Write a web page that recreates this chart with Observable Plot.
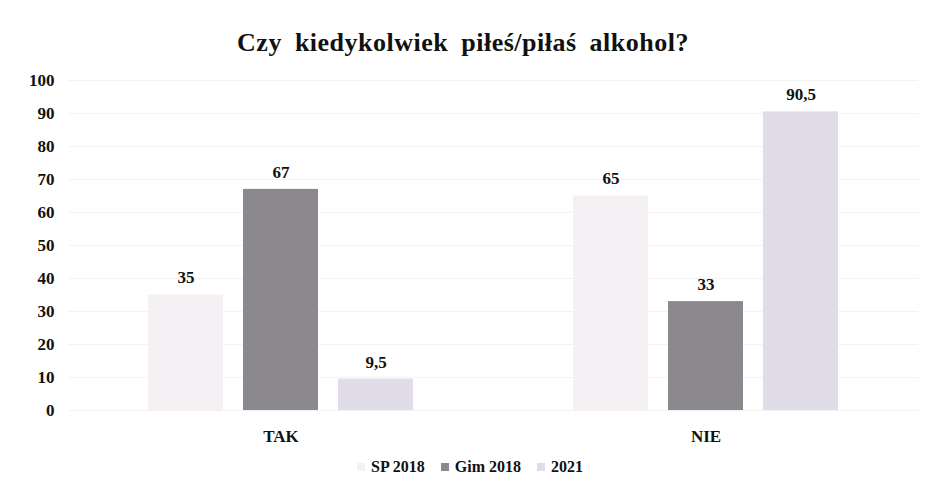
<!DOCTYPE html>
<html>
<head>
<meta charset="utf-8">
<script src="https://cdn.jsdelivr.net/npm/d3@7"></script>
<script src="https://cdn.jsdelivr.net/npm/@observablehq/plot@0.6"></script>
<style>
  html, body { margin: 0; padding: 0; background: #ffffff; }
  body { width: 926px; height: 481px; overflow: hidden; font-family: "Liberation Serif", "DejaVu Serif", serif; }
  #title { height: 70px; box-sizing: border-box; padding-top: 28px; text-align: center; font-size: 26px; font-weight: bold; color: #111; letter-spacing: 0.5px; word-spacing: 6px; }
  #legend { display: flex; justify-content: center; align-items: center; gap: 0; font-size: 16px; font-weight: bold; color: #111; margin-left: 14px; margin-top: 3px; }
  #legend .item { display: flex; align-items: center; margin: 0 8px; }
  #legend .sw { width: 8px; height: 8px; margin-right: 6px; }
</style>
</head>
<body>
<div id="title">Czy kiedykolwiek piłeś/piłaś alkohol?</div>
<div id="chart"></div>
<div id="legend"></div>
<script>
const answers = ["TAK", "NIE"];
const seriesNames = ["SP 2018", "Gim 2018", "2021"];
const valuesSP2018 = [35, 65];
const valuesGim2018 = [67, 33];
const values2021 = [9.5, 90.5];
const yTicks = [0, 10, 20, 30, 40, 50, 60, 70, 80, 90, 100];
const seriesColors = ["#f5f0f4", "#8b898d", "#e0dde8"];

const seriesValues = [valuesSP2018, valuesGim2018, values2021];
const data = [];
answers.forEach((a, i) => {
  seriesNames.forEach((s, j) => {
    data.push({answer: a, series: s, value: seriesValues[j][i]});
  });
});

const fmt = v => String(v).replace(".", ",");

const chart = Plot.plot({
  width: 926,
  height: 385,
  marginTop: 10,
  marginLeft: 67,
  marginRight: 8,
  marginBottom: 45,
  style: {fontFamily: "'Liberation Serif', 'DejaVu Serif', serif", fontSize: "16px", fontWeight: "bold", color: "#111", background: "transparent"},
  fx: {domain: answers, padding: 0, label: null},
  x: {domain: seriesNames, paddingInner: 0.21, paddingOuter: 0.84, axis: null},
  y: {domain: [0, 100], ticks: yTicks, label: null},
  color: {domain: seriesNames, range: seriesColors},
  marks: [
    Plot.gridY(yTicks, {stroke: "#e8e8e8", strokeOpacity: 0.5}),
    Plot.axisY(yTicks, {tickSize: 0, tickPadding: 14, label: null, fontSize: 17, fontWeight: "bold", fill: "#111"}),
    Plot.axisFx({anchor: "bottom", tickSize: 0, tickPadding: 19, label: null, fontSize: 17, fontWeight: "bold", fill: "#111"}),
    Plot.barY(data, {fx: "answer", x: "series", y: "value", fill: "series"}),
    Plot.text(data, {fx: "answer", x: "series", y: "value", text: d => fmt(d.value), dy: -17, fontSize: 17, fontWeight: "bold", fill: "#111"})
  ]
});
document.getElementById("chart").appendChild(chart);

const legend = document.getElementById("legend");
seriesNames.forEach((s, j) => {
  const item = document.createElement("div");
  item.className = "item";
  const sw = document.createElement("span");
  sw.className = "sw";
  sw.style.background = seriesColors[j];
  const t = document.createElement("span");
  t.textContent = s;
  item.appendChild(sw);
  item.appendChild(t);
  legend.appendChild(item);
});
</script>
</body>
</html>
